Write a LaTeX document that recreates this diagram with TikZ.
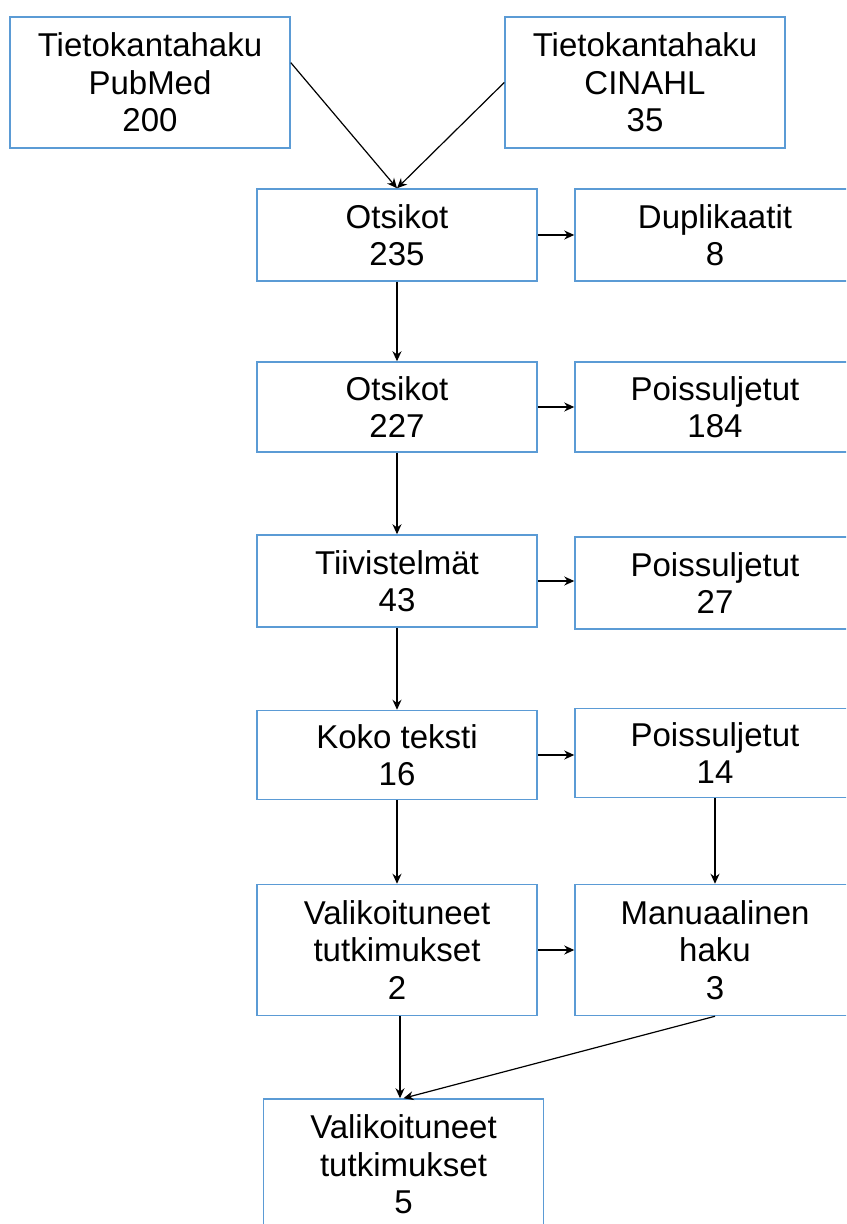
\documentclass[tikz,border=0pt]{standalone}
\usepackage{fontspec}
\setmainfont{Liberation Sans}
\usepackage{xcolor}
\usepackage{tikz}
\usetikzlibrary{arrows.meta,calc}
\definecolor{boxblue}{RGB}{91,155,213}

\begin{document}
\begin{tikzpicture}[x=0.5pt,y=-0.5pt,
    every node/.style={draw=boxblue,line width=0.75pt,align=center,minimum width=140pt,
      inner sep=0pt,font=\fontsize{16.5}{18.75}\selectfont},
    flow/.style={-{Stealth[length=5pt,width=4.5pt]},line width=0.6pt}]
  \path[use as bounding box,clip] (0,0) rectangle (846,1224);
  \foreach \name/\x/\y/\h/\txt in {pubmed/150/82.5/131/{Tietokantahaku\\PubMed\\200},
                                   cinahl/645/82.5/131/{Tietokantahaku\\CINAHL\\35},
                                   ots1/397/235/92/{Otsikot\\235},
                                   dupl/715/235/92/{Duplikaatit\\8},
                                   ots2/397/407/90/{Otsikot\\227},
                                   poiss1/715/407/90/{Poissuljetut\\184},
                                   tiiv/397/581/92/{Tiivistelmät\\43},
                                   poiss2/715/583/92/{Poissuljetut\\27},
                                   koko/397/755/89/{Koko teksti\\16},
                                   poiss3/715/753/89/{Poissuljetut\\14},
                                   vali1/397/950/131/{Valikoituneet\\tutkimukset\\2},
                                   manu/715/950/131/{Manuaalinen\\haku\\3},
                                   vali2/403.5/1164.5/131/{Valikoituneet\\tutkimukset\\5}}{
    \node[minimum height=\h*0.5pt] (\name) at (\x,\y) {\txt};
  }
  \draw[flow] ($(pubmed.north east)!0.35!(pubmed.south east)$) -- (ots1.north);
  \draw[flow] (cinahl.west) -- (ots1.north);
  \foreach \a/\b in {ots1/ots2,ots2/tiiv,tiiv/koko,koko/vali1,poiss3/manu}
    \draw[flow] (\a.south) -- (\a.south |- \b.north);
  \foreach \a/\b in {ots1/dupl,ots2/poiss1,tiiv/poiss2,koko/poiss3,vali1/manu}
    \draw[flow] (\a.east) -- (\a.east -| \b.west);
  \draw[flow] ($(vali1.south)+(3,0)$) -- ($(vali1.south |- vali2.north)+(3,0)$);
  \draw[flow] (manu.south) -- (vali2.north);
\end{tikzpicture}
\end{document}
